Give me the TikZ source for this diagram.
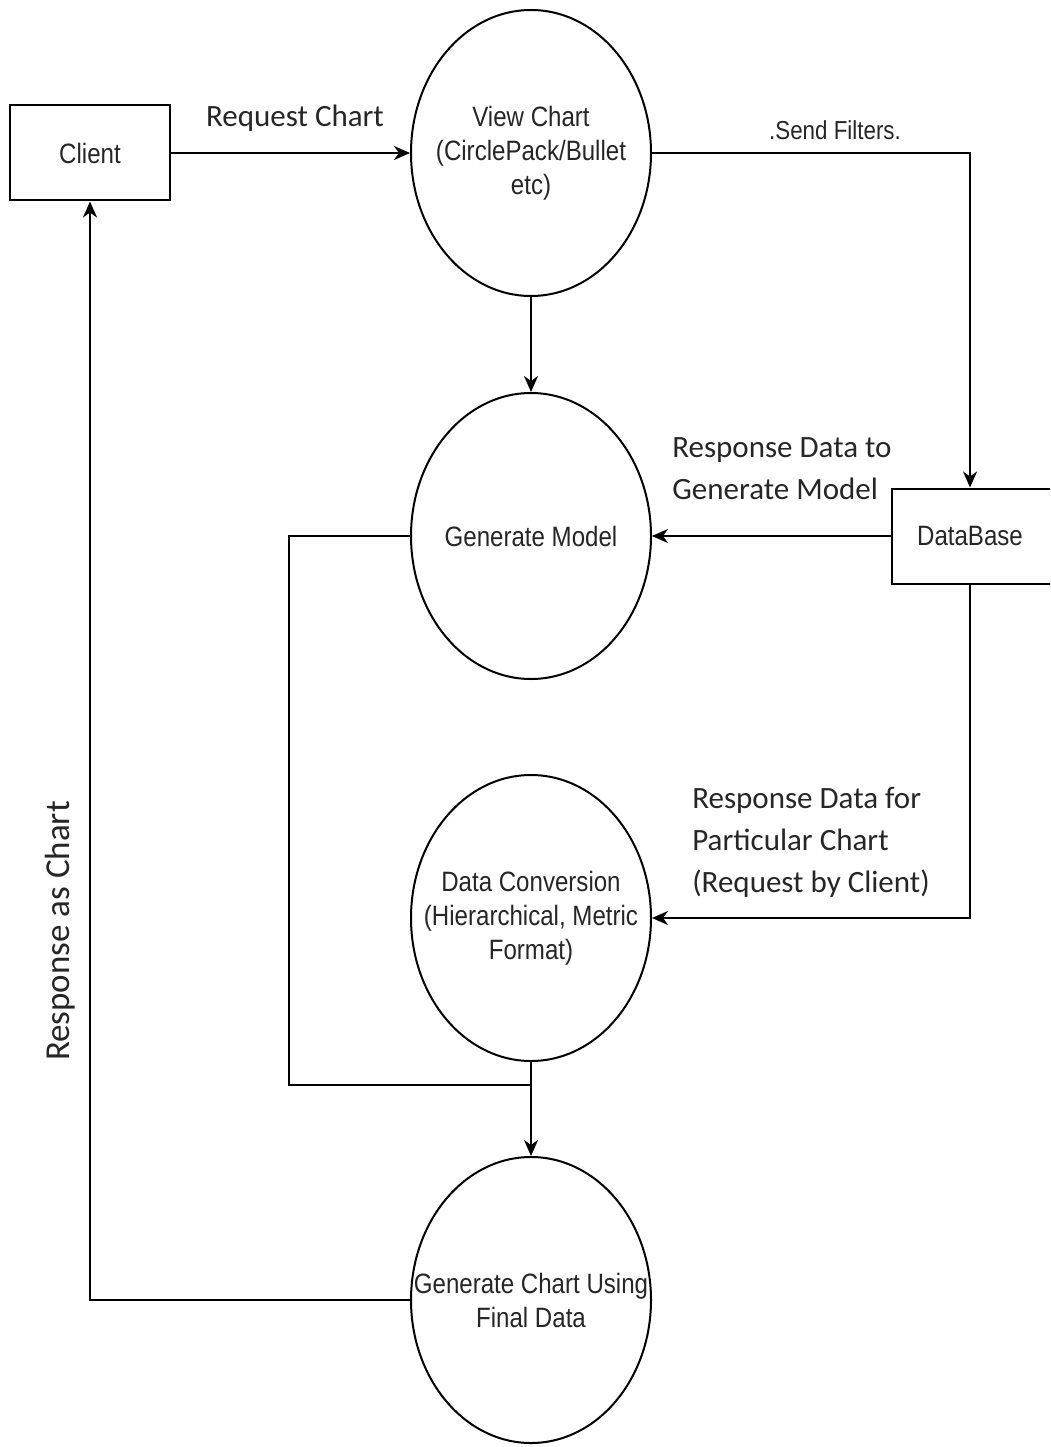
\documentclass[tikz,border=0pt]{standalone}
\usepackage{fontspec}
\usetikzlibrary{shapes.geometric,arrows.meta}
\newfontfamily\nodefont[FakeStretch=0.86]{Liberation Sans}
\newfontfamily\labelfont{Carlito}
\begin{document}
\begin{tikzpicture}[x=1pt,y=-1pt,
  line width=2pt,
  arr/.style={-{Stealth[length=16pt,width=14pt,inset=5pt]}},
  process/.style={draw,ellipse,minimum width=240,minimum height=286,inner sep=0pt},
  proctext/.style={align=center,font=\fontsize{28}{34}\selectfont\nodefont,text=black!85},
  entity/.style={draw,rectangle,inner sep=0pt},
  flowlabel/.style={align=left,font=\fontsize{31}{42}\selectfont\labelfont,text=black!85}]
\useasboundingbox (0,0) rectangle (1050,1447);
\clip (0,0) rectangle (1050,1447);

% external entities
\node[entity,minimum width=160,minimum height=95] (client) at (90,153) {};
\node[proctext] (clienttext) at (client.center) {Client};
\node[entity,minimum width=200,minimum height=95,anchor=west] (db) at (891,536) {};
\node[proctext] (dbtext) at (970,536) {DataBase};

% processes
\node[process] (view) at (531,153) {};
\node[proctext] (viewtext) at (view.center) {View Chart\\(CirclePack/Bullet\\etc)};
\node[process] (model) at (531,536) {};
\node[proctext] (modeltext) at (model.center) {Generate Model};
\node[process] (conv) at (531,918) {};
\node[proctext] (convtext) at (conv.center) {Data Conversion\\(Hierarchical, Metric\\Format)};
\node[process] (chart) at (531,1300) {};
\node[proctext] (charttext) at (chart.center) {Generate Chart Using\\Final Data};

% data flows
\draw[arr] (client.east) -- (view.west);
\draw[arr] (view.east) -| (dbtext |- db.north);
\draw[arr] (view.south) -- (model.north);
\draw[arr] (db.west) -- (model.east);
\draw[arr] (dbtext |- db.south) |- (conv.east);
\coordinate (join) at (531,1085);
\draw (model.west) -- ++(-121,0) |- (join);
\draw (conv.south) -- (join);
\draw[arr] (join) -- (chart.north);
\draw[arr] (chart.west) -| (client.south);

% flow labels
\node[flowlabel] (lreq) at (295,118) {Request Chart};
\node[proctext,font=\fontsize{26}{30}\selectfont\nodefont] (lfilt) at (835,130) {.Send Filters.};
\node[flowlabel,anchor=west] (lmodel) at (668,469) {Response Data to\\Generate Model};
\node[flowlabel,anchor=west] (lconv) at (688,842) {Response Data for\\Particular Chart\\(Request by Client)};
\node[flowlabel,rotate=90,font=\fontsize{35}{42}\selectfont\labelfont] (lresp) at (60,931) {Response as Chart};
\end{tikzpicture}
\end{document}
